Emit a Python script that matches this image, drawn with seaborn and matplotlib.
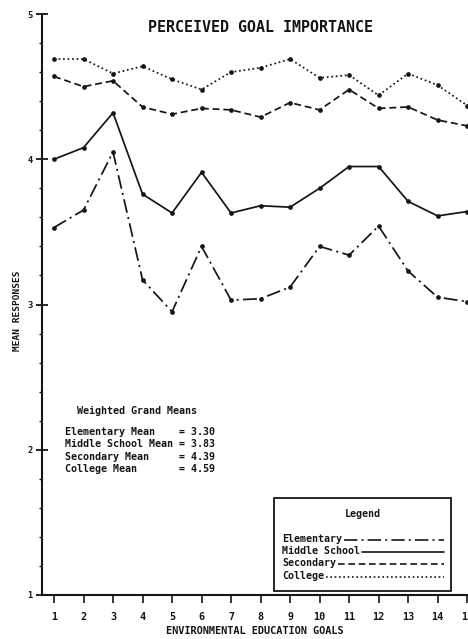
import numpy as np
import pandas as pd
import matplotlib
matplotlib.use("Agg")
import matplotlib.pyplot as plt
import seaborn as sns
from matplotlib.lines import Line2D
from matplotlib.patches import Rectangle
from matplotlib.ticker import MultipleLocator

goals = list(range(1, 16))
elementary = [3.53, 3.65, 4.05, 3.17, 2.95, 3.40, 3.03, 3.04, 3.12, 3.40, 3.34, 3.54, 3.23, 3.05, 3.02]
middle = [4.00, 4.08, 4.32, 3.76, 3.63, 3.91, 3.63, 3.68, 3.67, 3.80, 3.95, 3.95, 3.71, 3.61, 3.64]
secondary = [4.57, 4.50, 4.54, 4.36, 4.31, 4.35, 4.34, 4.29, 4.39, 4.34, 4.48, 4.35, 4.36, 4.27, 4.23]
college = [4.69, 4.69, 4.59, 4.64, 4.55, 4.48, 4.60, 4.63, 4.69, 4.56, 4.58, 4.44, 4.59, 4.51, 4.37]
levels = ["Elementary", "Middle School", "Secondary", "College"]
grand_means = [3.30, 3.83, 4.39, 4.59]
mean_labels = ["Elementary Mean", "Middle School Mean", "Secondary Mean", "College Mean"]

df = pd.DataFrame({
    "goal": goals * 4,
    "mean": elementary + middle + secondary + college,
    "level": sum([[lv] * len(goals) for lv in levels], []),
})

sns.set_style("ticks")
plt.rcParams['font.family'] = ['DejaVu Sans Mono', 'DejaVu Sans']
plt.rcParams['font.weight'] = 'bold'

W, H = 468, 639
fig = plt.figure(figsize=(W / 100, H / 100), dpi=100)
ax = fig.add_axes([42 / W, 1 - 595 / H, (W - 42) / W, (595 - 14) / H])

ink = "#151515"
dash_map = {
    "Elementary": (8, 2.5, 1.2, 2.5),
    "Middle School": "",
    "Secondary": (4, 2.2),
    "College": (1, 1.6),
}
sns.lineplot(data=df, x="goal", y="mean", hue="level", style="level",
             palette={lv: ink for lv in levels}, dashes=dash_map,
             markers={lv: "o" for lv in levels}, markersize=3.4,
             markeredgewidth=0, linewidth=1.25, legend=False, ax=ax)

ax.set_xlim(0.593, 15.03)
ax.set_ylim(1, 5)
ax.set_xticks(goals)
ax.set_xticklabels([str(g) for g in goals], fontsize=7.3, fontweight='bold')
ax.set_yticks([1, 2, 3, 4, 5])
ax.set_yticklabels(["1", "2", "3", "4", "5"], fontsize=6.3, fontweight='bold')
ax.yaxis.set_minor_locator(MultipleLocator(0.2))
ax.tick_params(axis='y', which='major', direction='inout', length=9, width=1.3, pad=2, colors=ink)
ax.tick_params(axis='y', which='minor', direction='out', length=2.5, width=1.0, colors=ink)
ax.tick_params(axis='x', which='major', direction='out', length=6, width=1.2, pad=6, colors=ink)
for s in ["top", "right"]:
    ax.spines[s].set_visible(False)
for s in ["left", "bottom"]:
    ax.spines[s].set_linewidth(1.5)
    ax.spines[s].set_color(ink)

ax.set_xlabel("ENVIRONMENTAL EDUCATION GOALS", fontsize=7.4, fontweight='bold', color=ink, labelpad=3)
ax.set_ylabel("MEAN RESPONSES", fontsize=6.8, fontweight='bold', color=ink)
ax.yaxis.set_label_coords(-0.047, 0.49)

def fx(px):
    return px / W

def fy(py):
    return 1 - py / H

fig.text(fx(260), fy(28), "PERCEIVED GOAL IMPORTANCE", ha='center', va='center',
         fontsize=10.8, fontweight='bold', color=ink)

# Weighted grand means block
fs = 7.2
fig.text(fx(77), fy(411), "Weighted Grand Means", ha='left', va='center', fontsize=fs, color=ink)
for i, (lab, val) in enumerate(zip(mean_labels, grand_means)):
    y = 432 + i * 12.3
    fig.text(fx(65), fy(y), f"{lab:<18s} = {val:.2f}", ha='left', va='center', fontsize=fs, color=ink)

# Legend box
fig.add_artist(Rectangle((fx(274), fy(591)), (451 - 274) / W, (591 - 498) / H,
                         transform=fig.transFigure, facecolor='white', edgecolor=ink,
                         linewidth=1.3, zorder=5))
fig.text(fx(363), fy(514), "Legend", ha='center', va='center', fontsize=fs, color=ink, zorder=6)
char_w = 0.602 * fs * 100 / 72
for i, lv in enumerate(levels):
    y = 539 + i * 12.2
    fig.text(fx(282), fy(y), lv, ha='left', va='center', fontsize=fs, color=ink, zorder=6)
    x0 = 282 + len(lv) * char_w + 2
    ln = Line2D([fx(x0), fx(444)], [fy(y + 1), fy(y + 1)], transform=fig.transFigure,
                color=ink, linewidth=1.2, zorder=6)
    d = dash_map[lv]
    if d:
        ln.set_dashes(d)
    fig.add_artist(ln)

fig.savefig("out.png", dpi=100, facecolor='white')
